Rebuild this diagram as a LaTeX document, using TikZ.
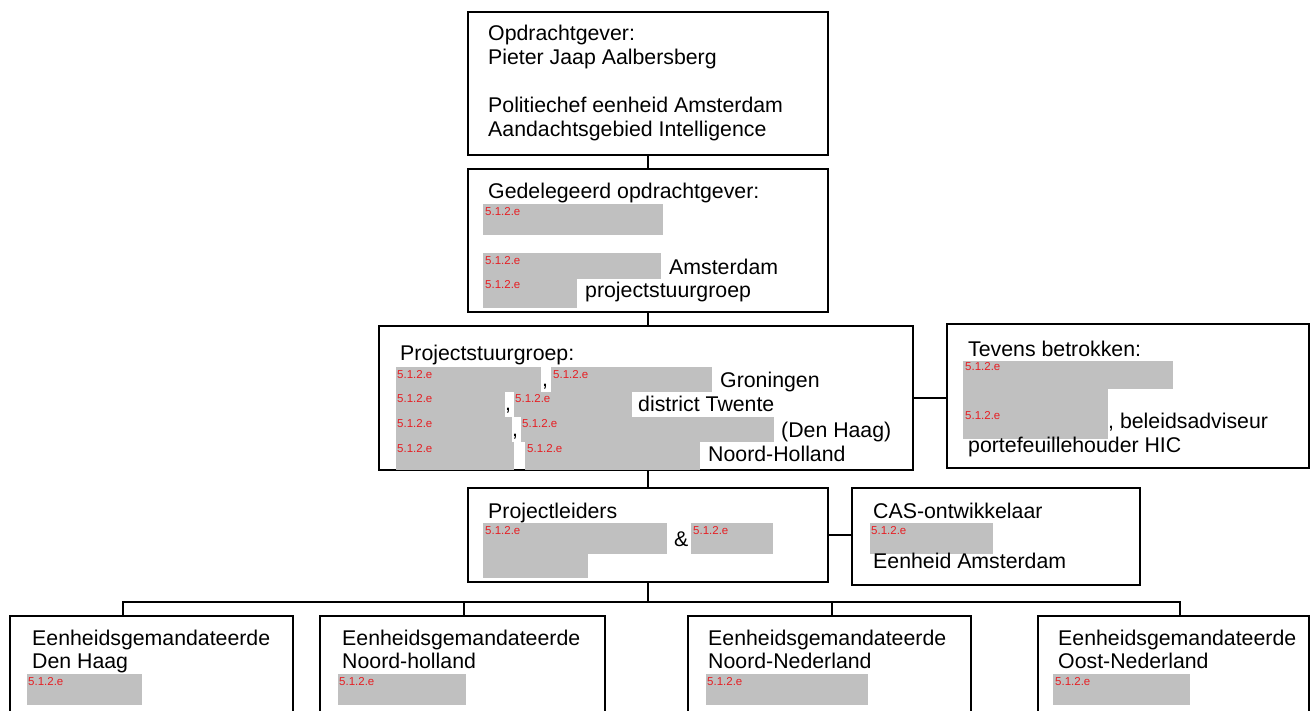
\documentclass[tikz,border=0pt]{standalone}
\usepackage{fontspec}
\setmainfont{Liberation Sans}
\definecolor{redgray}{RGB}{192,192,192}
\definecolor{redlab}{RGB}{230,30,35}
\begin{document}
\begin{tikzpicture}[x=1pt,y=-1pt,
  box/.style={draw, line width=2.8pt, inner sep=0pt, outer sep=0pt},
  conn/.style={line width=2.4pt},
  txt/.style={anchor=base west, inner sep=0pt, font=\fontsize{21.3}{24}\selectfont},
  lab/.style={anchor=west, inner sep=0pt, text=redlab, font=\fontsize{11.5}{12}\selectfont},
  gray/.style={fill=redgray, draw=none}]
\useasboundingbox (0,0) rectangle (1311,711);
\clip (0,0) rectangle (1311,711);
% boxes
\node[box, minimum width=360pt, minimum height=143pt] (top) at (648,83.5) {};
\node[box, minimum width=360pt, minimum height=143pt] (gedel) at (648,240.5) {};
\node[box, minimum width=534pt, minimum height=144pt] (psg) at (646,398) {};
\node[box, minimum width=362pt, minimum height=144pt] (tev) at (1128,396) {};
\node[box, minimum width=360pt, minimum height=94pt] (pl) at (648,535) {};
\node[box, minimum width=288pt, minimum height=97pt] (cas) at (996,536.5) {};
\node[box, minimum width=283pt, minimum height=130pt] (b1) at (151.5,681) {};
\node[box, minimum width=285pt, minimum height=130pt] (b2) at (462.5,681) {};
\node[box, minimum width=283pt, minimum height=130pt] (b3) at (829.5,681) {};
\node[box, minimum width=271pt, minimum height=130pt] (b4) at (1173.5,681) {};
% connectors
\draw[conn] (top.south) -- (gedel.north);
\draw[conn] (gedel.south) -- (gedel.south |- psg.north);
\draw[conn] (gedel.south |- psg.south) -- (pl.north);
\draw[conn] (psg.east) -- (psg.east -| tev.west);
\draw[conn] (pl.east) -- (pl.east -| cas.west);
\path (pl.south) ++(0,20) coordinate (bus);
\coordinate (d1) at (123,616);
\coordinate (d2) at (464,616);
\coordinate (d3) at (832,616);
\coordinate (d4) at (1180,616);
\draw[conn] (pl.south) -- (bus);
\draw[conn] (d1) |- (bus) -| (d4);
\draw[conn] (d2) -- (d2 |- bus);
\draw[conn] (d3) -- (d3 |- bus);
% top box text
\node[txt] (t1) at (488,41) {Opdrachtgever:};
\node[txt] (t2) at (488,65) {Pieter Jaap Aalbersberg};
\node[txt] (t3) at (488,113) {Politiechef eenheid Amsterdam};
\node[txt] (t4) at (488,137) {Aandachtsgebied Intelligence};
% gedelegeerd
\node[txt] (g1) at (488,199) {Gedelegeerd opdrachtgever:};
\fill[gray] (483,204) rectangle (663,235);
\fill[gray] (483,253) rectangle (661,279);
\fill[gray] (483,279) rectangle (577,308);
\node[lab] (gl1) at (485,212) {5.1.2.e};
\node[lab] (gl2) at (485,261) {5.1.2.e};
\node[lab] (gl3) at (485,285) {5.1.2.e};
\node[txt] (g2) at (669,275) {Amsterdam};
\node[txt] (g3) at (585,298) {projectstuurgroep};
% projectstuurgroep
\node[txt] (p0) at (400,360) {Projectstuurgroep:};
\fill[gray] (396,367) rectangle (541,392);
\fill[gray] (551,367) rectangle (712,392);
\fill[gray] (396,392) rectangle (505,417);
\fill[gray] (514,392) rectangle (632,417);
\fill[gray] (396,417) rectangle (512,442);
\fill[gray] (521,417) rectangle (774,442);
\fill[gray] (396,442) rectangle (514,470);
\fill[gray] (525,442) rectangle (700,470);
\node[txt] (pc1) at (542,386) {,};
\node[txt] (pc2) at (505,410) {,};
\node[txt] (pc3) at (512,436) {,};
\node[lab] (pl1) at (397,375) {5.1.2.e};
\node[lab] (pl2) at (397,399) {5.1.2.e};
\node[lab] (pl3) at (397,424) {5.1.2.e};
\node[lab] (pl4) at (397,449) {5.1.2.e};
\node[lab] (pr1) at (553,375) {5.1.2.e};
\node[lab] (pr2) at (515,399) {5.1.2.e};
\node[lab] (pr3) at (522,424) {5.1.2.e};
\node[lab] (pr4) at (527,449) {5.1.2.e};
\node[txt] (p1) at (720,387) {Groningen};
\node[txt] (p2) at (638,411) {district Twente};
\node[txt] (p3) at (781,437) {(Den Haag)};
\node[txt] (p4) at (708,461) {Noord-Holland};
% tevens
\node[txt] (v0) at (968,356) {Tevens betrokken:};
\fill[gray] (963,361) rectangle (1173,389);
\fill[gray] (963,389) rectangle (1108,439);
\node[lab] (vl1) at (965,367) {5.1.2.e};
\node[lab] (vl2) at (965,416) {5.1.2.e};
\node[txt] (v1) at (1108,428) {, beleidsadviseur};
\node[txt] (v2) at (968,452) {portefeuillehouder HIC};
% projectleiders
\node[txt] (l0) at (488,518) {Projectleiders};
\fill[gray] (483,523) rectangle (667,554);
\fill[gray] (483,554) rectangle (588,578);
\fill[gray] (691,523) rectangle (773,554);
\node[lab] (ll1) at (485,531) {5.1.2.e};
\node[lab] (ll2) at (693,531) {5.1.2.e};
\node[txt] (l1) at (674,546) {\&};
% CAS
\node[txt] (c0) at (873,518) {CAS-ontwikkelaar};
\fill[gray] (870,523) rectangle (993,554);
\node[lab] (cl1) at (871,531) {5.1.2.e};
\node[txt] (c1) at (873,568) {Eenheid Amsterdam};
% bottom boxes
\node[txt] (e1a) at (32,645) {Eenheidsgemandateerde};
\node[txt] (e1b) at (32,668) {Den Haag};
\fill[gray] (27,674) rectangle (142,705);
\node[lab] (el1) at (28,682) {5.1.2.e};
\node[txt] (e2a) at (342,645) {Eenheidsgemandateerde};
\node[txt] (e2b) at (342,668) {Noord-holland};
\fill[gray] (338,674) rectangle (466,705);
\node[lab] (el2) at (339,682) {5.1.2.e};
\node[txt] (e3a) at (708,645) {Eenheidsgemandateerde};
\node[txt] (e3b) at (708,668) {Noord-Nederland};
\fill[gray] (706,674) rectangle (868,705);
\node[lab] (el3) at (707,682) {5.1.2.e};
\node[txt] (e4a) at (1058,645) {Eenheidsgemandateerde};
\node[txt] (e4b) at (1058,668) {Oost-Nederland};
\fill[gray] (1053,674) rectangle (1190,705);
\node[lab] (el4) at (1055,682) {5.1.2.e};
\end{tikzpicture}
\end{document}
